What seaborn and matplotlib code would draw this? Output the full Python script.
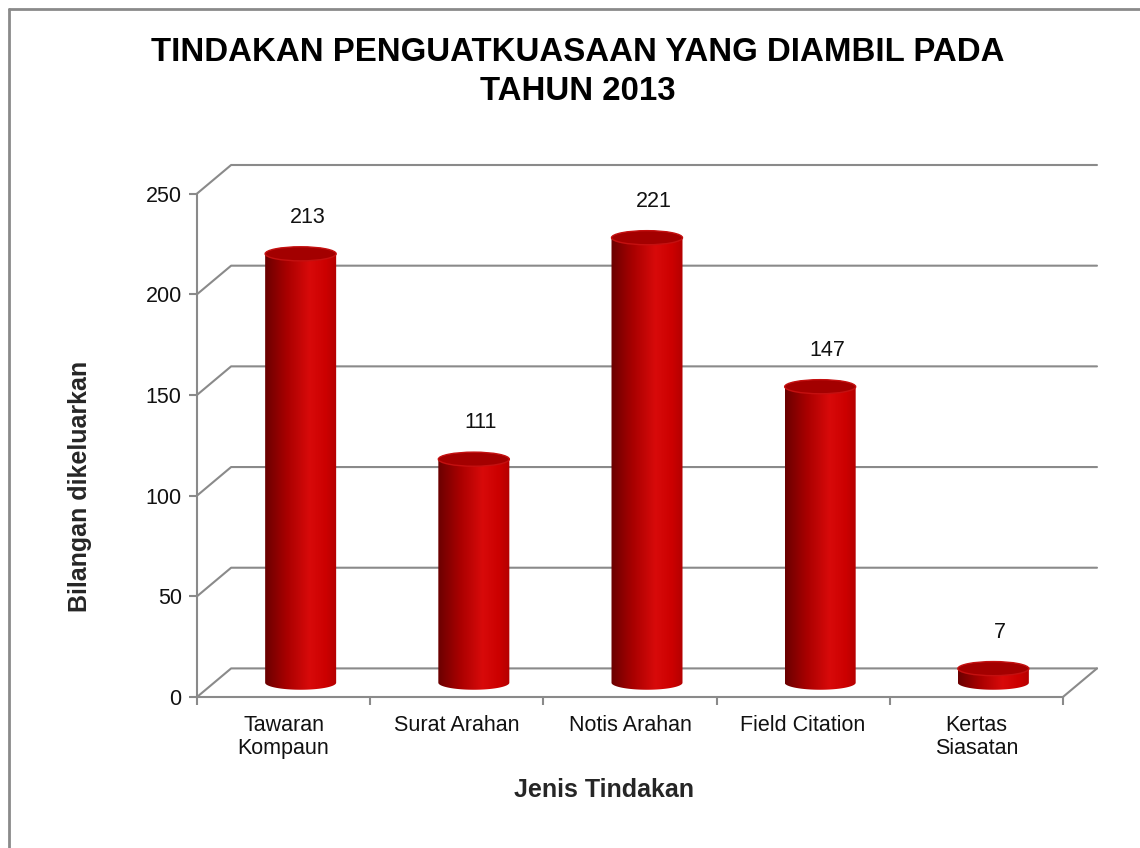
import numpy as np
import pandas as pd
import seaborn as sns
import matplotlib.pyplot as plt
from matplotlib.patches import Polygon, Ellipse
from matplotlib.colors import LinearSegmentedColormap
from matplotlib.lines import Line2D

# data
categories = ['Tawaran\nKompaun', 'Surat Arahan', 'Notis Arahan',
              'Field Citation', 'Kertas\nSiasatan']
values = [213, 111, 221, 147, 7]
y_ticks = [0, 50, 100, 150, 200, 250]

title = 'TINDAKAN PENGUATKUASAAN YANG DIAMBIL PADA\nTAHUN 2013'
x_label = 'Jenis Tindakan'
y_label = 'Bilangan dikeluarkan'

sns.set_style('white')
plt.rcParams['font.family'] = ['Liberation Sans', 'DejaVu Sans']

GRID = '#8a8a8a'
DX, DY = 0.197, 14.2   # depth of the fake 3d box, in data units
BAR_W = 0.41
ELL_H = 7

fig = plt.figure(figsize=(11.4, 8.48), dpi=100)
ax = fig.add_axes([197 / 1140, 1 - 697 / 848, 900 / 1140, 532 / 848])

df = pd.DataFrame({'jenis': categories, 'bilangan': values})
sns.barplot(data=df, x='jenis', y='bilangan', width=BAR_W,
            color='#c00000', ax=ax)

# back wall / side wall / floor
for y in y_ticks:
    ax.plot([-0.5, -0.5 + DX, 4.5 + DX], [y, y + DY, y + DY],
            color=GRID, lw=1.5, zorder=1, clip_on=False)
ax.plot([4.5, 4.5 + DX], [0, DY], color=GRID, lw=1.5, zorder=1, clip_on=False)

# cylinders
cmap = LinearSegmentedColormap.from_list(
    'cyl', [(0, '#6a0000'), (0.3, '#a80000'), (0.62, '#d80a0a'),
            (0.85, '#cc0000'), (1, '#b30000')])
grad = np.linspace(0, 1, 256).reshape(1, -1)
t = np.linspace(np.pi, 2 * np.pi, 60)

for bar, v in zip(ax.patches, values):
    bar.set_visible(False)
    w = bar.get_width()
    x0 = bar.get_x() + DX / 2
    cx = x0 + w / 2
    y0 = DY / 2
    y1 = y0 + bar.get_height()
    arc = list(zip(cx + w / 2 * np.cos(t), y0 + ELL_H / 2 * np.sin(t)))
    body = Polygon([(x0, y1)] + arc + [(x0 + w, y1)], closed=True,
                   fill=False, lw=0)
    ax.add_patch(body)
    im = ax.imshow(grad, cmap=cmap, extent=[x0, x0 + w, y0 - ELL_H / 2, y1],
                   aspect='auto', zorder=3, interpolation='bilinear')
    im.set_clip_path(body)
    ax.add_patch(Ellipse((cx, y1), w, ELL_H, facecolor='#a30000',
                         edgecolor='#c41010', lw=1, zorder=4))
    ax.text(cx + 0.04, y1 + 18, str(v), ha='center', va='center',
            fontsize=15.5, color='#111111')

ax.set_xlim(-0.5, 4.5 + DX)
ax.set_ylim(0, 250 + DY)

for side in ['top', 'right']:
    ax.spines[side].set_visible(False)
ax.spines['left'].set_bounds(0, 250)
ax.spines['bottom'].set_bounds(-0.5, 4.5)
for side in ['left', 'bottom']:
    ax.spines[side].set_color(GRID)
    ax.spines[side].set_linewidth(1.5)

ax.set_yticks(y_ticks)
ax.tick_params(axis='y', left=True, direction='out', length=6, width=1.5,
               color=GRID, labelsize=15.5, pad=5, labelcolor='#111111')
ax.set_xticks(np.arange(-0.5, 5, 1))
ax.set_xticklabels([])
ax.tick_params(axis='x', which='major', bottom=True, direction='out',
               length=6, width=1.5, color=GRID)
ax.set_xticks(range(len(categories)), minor=True)
ax.set_xticklabels(categories, minor=True, linespacing=1.1)
ax.tick_params(axis='x', which='minor', bottom=True, length=0,
               labelsize=15.5, pad=13, labelcolor='#111111')
ax.set_xlabel('')
ax.set_ylabel('')

fig.text(0.507, 1 - 72 / 848, title, ha='center', va='center',
         fontsize=23.8, fontweight='bold', linespacing=1.3, color='#000000')
fig.text(80 / 1140, 1 - 486 / 848, y_label, rotation=90, ha='center',
         va='center', fontsize=18, fontweight='bold')
fig.text(604 / 1140, 1 - 790 / 848, x_label, ha='center', va='center',
         fontsize=18, fontweight='bold')

# chart frame (only left and top edges are visible in the crop)
fig.add_artist(Line2D([9 / 1140, 9 / 1140], [0, 1 - 9 / 848], color=GRID,
                      lw=2, transform=fig.transFigure))
fig.add_artist(Line2D([9 / 1140, 1], [1 - 9 / 848, 1 - 9 / 848], color=GRID,
                      lw=2, transform=fig.transFigure))

fig.savefig('out.png', dpi=100)
